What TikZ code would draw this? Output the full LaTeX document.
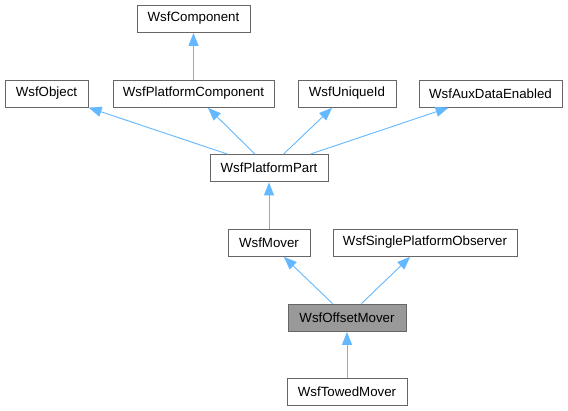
\documentclass[tikz,border=0pt]{standalone}
\usepackage{fontspec}
\setmainfont{Liberation Sans}
\usetikzlibrary{arrows.meta}
\definecolor{edgeblue}{RGB}{99,184,255}
\definecolor{boxgray}{RGB}{102,102,102}

\begin{document}
\begin{tikzpicture}[x=1pt, y=-1pt,
  cls/.style={draw=boxgray, line width=0.9pt, fill=white, minimum height=27pt, inner sep=0pt, font=\fontsize{13.3}{16}\selectfont},
  inh/.style={draw=edgeblue, line width=0.9pt, -{Triangle[length=13pt,width=10pt]}, shorten >=0.5pt}]
\useasboundingbox[fill=white] (0,0) rectangle (568,411);
% classes
\node[cls, minimum width=113pt] (comp) at (193.5,18.5) {WsfComponent};
\node[cls, minimum width=83pt] (obj) at (46.5,93.5) {WsfObject};
\node[cls, minimum width=161pt] (pcomp) at (193.5,93.5) {WsfPlatformComponent};
\node[cls, minimum width=98pt] (uid) at (347,93.5) {WsfUniqueId};
\node[cls, minimum width=143pt] (aux) at (490.5,93.5) {WsfAuxDataEnabled};
\node[cls, minimum width=118pt] (ppart) at (269,168) {WsfPlatformPart};
\node[cls, minimum width=82pt] (mover) at (269,242.5) {WsfMover};
\node[cls, minimum width=184pt] (spo) at (425,242.5) {WsfSinglePlatformObserver};
\node[cls, minimum width=118pt, fill=black!40] (omover) at (347,317.5) {WsfOffsetMover}; % this class
\node[cls, minimum width=120pt] (tmover) at (347,391.5) {WsfTowedMover};
% inheritance
\draw[inh] (pcomp) -- (comp);
\draw[inh] (ppart) -- (obj);
\draw[inh] (ppart) -- (pcomp);
\draw[inh] (ppart) -- (uid);
\draw[inh] (ppart) -- (aux);
\draw[inh] (mover) -- (ppart);
\draw[inh] (omover) -- (mover);
\draw[inh] (omover) -- (spo);
\draw[inh] (tmover) -- (omover);
\end{tikzpicture}
\end{document}
